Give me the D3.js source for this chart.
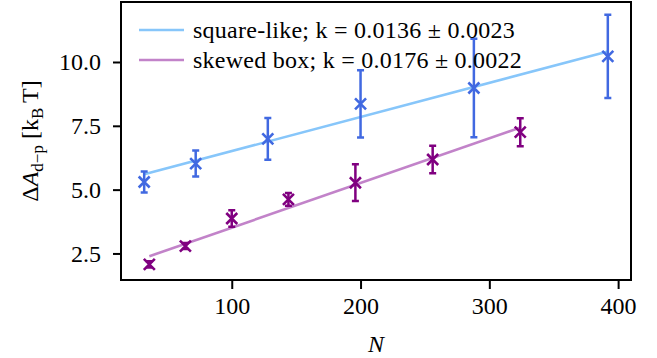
<!DOCTYPE html>
<html>
<head>
<meta charset="utf-8">
<script src="https://cdn.jsdelivr.net/npm/d3@7"></script>
<style>
	body { margin: 0; background: #fff; }
	text { font-family: "Liberation Serif", "DejaVu Serif", serif; fill: #000; }
</style>
</head>
<body>
<svg id="chart" width="657" height="358"></svg>
<script>
// square-like
var squareN = [32, 72, 128, 200, 288, 392];
var squareA = [5.30, 6.02, 6.99, 8.36, 8.98, 10.22];
var squareErr = [0.41, 0.51, 0.82, 1.32, 1.93, 1.63];
var squareFitN = [32, 392];
var squareFitA = [5.60, 10.41];

// skewed box
var skewN = [36, 64, 100, 144, 196, 256, 324];
var skewA = [2.07, 2.79, 3.87, 4.62, 5.27, 6.18, 7.25];
var skewErr = [0.12, 0.12, 0.32, 0.25, 0.72, 0.54, 0.55];
var skewFitN = [36, 324];
var skewFitA = [2.39, 7.43];

var legendLabels = ["square-like; k = 0.0136 \u00b1 0.0023", "skewed box; k = 0.0176 \u00b1 0.0022"];
var xTicks = [100, 200, 300, 400];
var yTicks = [2.5, 5.0, 7.5, 10.0];
var xLimits = [14, 410];
var yLimits = [1.46, 12.35];

function drawChart(){
	var svg = d3.select("#chart");

	var pLeft = 121, pRight = 631, pTop = 2, pBottom = 280;

	var x = d3.scaleLinear().domain(xLimits).range([pLeft, pRight]);
	var y = d3.scaleLinear().domain(yLimits).range([pBottom, pTop]);

	//軸
	var xAxis = svg.append("g")
		.attr("transform", "translate(0," + pBottom + ")")
		.call(d3.axisBottom(x).tickValues(xTicks).tickSize(9).tickPadding(8).tickFormat(d3.format("d")));
	var yAxis = svg.append("g")
		.attr("transform", "translate(" + pLeft + ",0)")
		.call(d3.axisLeft(y).tickValues(yTicks).tickSize(8).tickPadding(12).tickFormat(d3.format(".1f")));

	[xAxis, yAxis].forEach(function(a){
		a.select(".domain").remove();
		a.selectAll(".tick line").attr("stroke", "#000").attr("stroke-width", 2);
		a.selectAll(".tick text").attr("font-size", "24px").attr("font-family", "Liberation Serif");
	});
	yAxis.selectAll(".tick text").attr("dy", "0.33em");
	xAxis.selectAll(".tick text").attr("dy", "0.71em");

	//枠
	svg.append("rect")
		.attr("x", pLeft).attr("y", pTop)
		.attr("width", pRight - pLeft).attr("height", pBottom - pTop)
		.attr("fill", "none").attr("stroke", "#000").attr("stroke-width", 2);

	var line = d3.line()
		.x(function(d){ return x(d[0]); })
		.y(function(d){ return y(d[1]); });

	function drawFit(ns, vals, color){
		svg.append("path")
			.datum(d3.zip(ns, vals))
			.attr("d", line)
			.attr("fill", "none")
			.attr("stroke", color)
			.attr("stroke-width", 2.6);
	}

	function drawPoints(ns, vals, errs, color){
		var g = svg.append("g");
		var pts = d3.zip(ns, vals, errs);
		var cap = 3.5, m = 5.5;

		//エラーバー
		g.selectAll(".bar").data(pts).enter().append("path")
			.attr("d", function(d){
				var cx = x(d[0]), y0 = y(d[1] - d[2]), y1 = y(d[1] + d[2]);
				return "M" + cx + "," + y0 + "V" + y1 +
					"M" + (cx - cap) + "," + y0 + "H" + (cx + cap) +
					"M" + (cx - cap) + "," + y1 + "H" + (cx + cap);
			})
			.attr("fill", "none").attr("stroke", color).attr("stroke-width", 2.5);

		//マーカー(x)
		g.selectAll(".mark").data(pts).enter().append("path")
			.attr("d", function(d){
				var cx = x(d[0]), cy = y(d[1]);
				return "M" + (cx - m) + "," + (cy - m) + "L" + (cx + m) + "," + (cy + m) +
					"M" + (cx - m) + "," + (cy + m) + "L" + (cx + m) + "," + (cy - m);
			})
			.attr("fill", "none").attr("stroke", color).attr("stroke-width", 2.6);
	}

	drawFit(squareFitN, squareFitA, "#87c6fa");
	drawFit(skewFitN, skewFitA, "#c283c9");
	drawPoints(squareN, squareA, squareErr, "#4169e1");
	drawPoints(skewN, skewA, skewErr, "#800080");

	//凡例
	var legendColors = ["#87c6fa", "#c283c9"];
	var legend = svg.append("g");
	legendLabels.forEach(function(t, i){
		var ly = 30 + i * 30;
		legend.append("line")
			.attr("x1", 139).attr("x2", 184)
			.attr("y1", ly).attr("y2", ly)
			.attr("stroke", legendColors[i]).attr("stroke-width", 2.6);
		legend.append("text")
			.attr("x", 193).attr("y", ly + 7.5)
			.attr("font-size", "24px")
			.attr("letter-spacing", "0.25px")
			.text(t);
	});

	//軸ラベル
	svg.append("text")
		.attr("x", 376).attr("y", 352)
		.attr("text-anchor", "middle")
		.attr("font-size", "24px")
		.attr("font-style", "italic")
		.text("N");

	var yl = svg.append("text")
		.attr("transform", "translate(38,141) rotate(-90)")
		.attr("text-anchor", "middle")
		.attr("font-size", "24px");
	yl.append("tspan").text("\u0394");
	yl.append("tspan").attr("font-style", "italic").text("A");
	yl.append("tspan").attr("font-size", "17px").attr("dy", 5).text("d\u2212p");
	yl.append("tspan").attr("dy", -5).text(" [k");
	yl.append("tspan").attr("font-size", "17px").attr("dy", 5).text("B");
	yl.append("tspan").attr("dy", -5).text("\u2009T]");
}

drawChart();
</script>
</body>
</html>
